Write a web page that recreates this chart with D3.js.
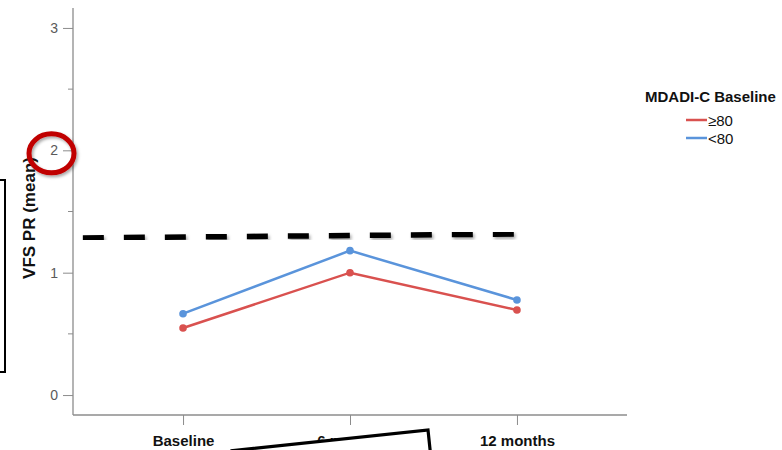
<!DOCTYPE html>
<html>
<head>
<meta charset="utf-8">
<script src="https://cdn.jsdelivr.net/npm/d3@7"></script>
<style>
  html, body { margin: 0; padding: 0; background: #fff; }
  svg { display: block; font-family: "Liberation Sans", Arial, sans-serif; }
</style>
</head>
<body>
<svg id="chart" width="782" height="450"></svg>
<script>
// ---- data ----
const categories = ["Baseline", "6 months", "12 months"];
const seriesNames = ["\u226580", "<80"];
const seriesHigh = [0.548, 1.00, 0.695];   // ≥80
const seriesLow  = [0.665, 1.18, 0.777];   // <80
const seriesColors = ["#d9514f", "#5a94db"];
const yTicks = [0, 1, 2, 3];
const yMinorTicks = [0.5, 1.5, 2.5];
const legendTitle = "MDADI-C Baseline";
const yTitle = "VFS PR (mean)";
// annotation dashed reference line (in category-index / value units)
const refLineIndex = [-0.6, 2.0];
const refLineValue = [1.284, 1.316];

const svg = d3.select("#chart");
const defs = svg.append("defs");
const sh = defs.append("filter").attr("id", "shadow").attr("x", "-20%").attr("y", "-50%").attr("width", "140%").attr("height", "200%");
sh.append("feDropShadow").attr("dx", 1.5).attr("dy", 2).attr("stdDeviation", 1.5).attr("flood-color", "#000").attr("flood-opacity", 0.35);

const pLeft = 73, pRight = 627, pTop = 8, pBottom = 415;
const x = d3.scalePoint().domain(categories).range([pLeft, pRight]).padding(0.659);
const y = d3.scaleLinear().domain([-0.163, 3.163]).range([pBottom, pTop]);
const xi = d3.scaleLinear().domain([0, categories.length - 1]).range([x(categories[0]), x(categories[categories.length - 1])]);

const axisColor = "#8c8c8c";

// Y axis
const gy = svg.append("g").attr("transform", `translate(${pLeft},0)`)
  .call(d3.axisLeft(y).tickValues(yTicks).tickSize(10).tickPadding(5).tickFormat(d3.format("d")));
gy.select(".domain").attr("d", `M0,${pTop}V${pBottom}`).attr("stroke", axisColor).attr("stroke-width", 1.3);
gy.selectAll(".tick line").attr("stroke", axisColor).attr("stroke-width", 1);
gy.selectAll(".tick text").attr("fill", "#5a5a5a").style("font-size", "14px").style("font-family", "Liberation Sans, Arial, sans-serif");
gy.selectAll(".minor").data(yMinorTicks).enter().append("line")
  .attr("x1", -5).attr("x2", 0).attr("y1", d => y(d)).attr("y2", d => y(d))
  .attr("stroke", axisColor).attr("stroke-width", 1);

// X axis
const gx = svg.append("g").attr("transform", `translate(0,${pBottom})`)
  .call(d3.axisBottom(x).tickSize(10).tickPadding(10));
gx.select(".domain").attr("d", `M${pLeft},0H${pRight}`).attr("stroke", axisColor).attr("stroke-width", 1.3);
gx.selectAll(".tick line").attr("stroke", axisColor).attr("stroke-width", 1);
gx.selectAll(".tick text").attr("fill", "#111").style("font-size", "15px").style("font-weight", "bold")
  .style("font-family", "Liberation Sans, Arial, sans-serif");

// Y title
svg.append("text").attr("transform", `translate(35,218) rotate(-90)`)
  .attr("text-anchor", "middle").style("font-size", "17px").style("font-weight", "bold").attr("fill", "#111")
  .text(yTitle);

// series lines
const allSeries = [seriesHigh, seriesLow];
const line = d3.line().x((d, i) => x(categories[i])).y(d => y(d));
allSeries.forEach((s, k) => {
  svg.append("path").datum(s).attr("d", line).attr("fill", "none")
    .attr("stroke", seriesColors[k]).attr("stroke-width", 2.5);
  svg.selectAll(null).data(s).enter().append("circle")
    .attr("cx", (d, i) => x(categories[i])).attr("cy", d => y(d)).attr("r", 3.8)
    .attr("fill", seriesColors[k]);
});

// dashed reference line annotation
svg.append("line")
  .attr("x1", xi(refLineIndex[0])).attr("x2", xi(refLineIndex[1]))
  .attr("y1", y(refLineValue[0])).attr("y2", y(refLineValue[1]))
  .attr("stroke", "#000").attr("stroke-width", 5.5).attr("stroke-dasharray", "21,20")
  .attr("filter", "url(#shadow)");

// legend
const lg = svg.append("g");
lg.append("text").attr("x", 645).attr("y", 102).style("font-size", "15px").style("font-weight", "bold")
  .attr("fill", "#111").text(legendTitle);
seriesNames.forEach((n, k) => {
  const yy = 120 + k * 18;
  lg.append("line").attr("x1", 686).attr("x2", 707).attr("y1", yy).attr("y2", yy)
    .attr("stroke", seriesColors[k]).attr("stroke-width", 2.5);
  lg.append("text").attr("x", 708).attr("y", yy + 5.5).style("font-size", "15px").attr("fill", "#111").text(n);
});

// annotation: left box
svg.append("rect").attr("x", -50).attr("y", 180).attr("width", 55).attr("height", 192)
  .attr("fill", "none").attr("stroke", "#000").attr("stroke-width", 2);

// annotation: red circle around "2"
svg.append("ellipse").attr("cx", 51.5).attr("cy", y(2) + 3).attr("rx", 22.5).attr("ry", 19.5)
  .attr("fill", "none").attr("stroke", "#c00000").attr("stroke-width", 5).attr("filter", "url(#shadow)");

// annotation: rotated bottom box
svg.append("g").attr("transform", "translate(428,430) rotate(-6)")
  .append("rect").attr("x", -197).attr("y", 0).attr("width", 197).attr("height", 60)
  .attr("fill", "#fff").attr("stroke", "#000").attr("stroke-width", 3.2);
</script>
</body>
</html>
